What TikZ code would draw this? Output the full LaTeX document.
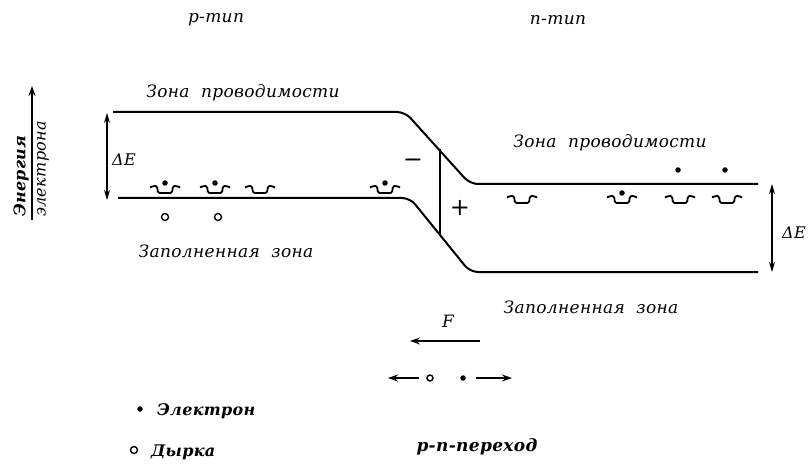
\documentclass[tikz,border=0pt]{standalone}
\usepackage{fontspec}
\setmainfont{DejaVu Serif}
\newfontfamily\lab[LetterSpace=2]{DejaVu Serif}
\usetikzlibrary{arrows.meta}
\begin{document}
\begin{tikzpicture}[x=1pt,y=-1pt,
  band/.style={line width=2pt, rounded corners=8pt},
  txt/.style={font=\lab\itshape\fontsize{17}{17}\selectfont, inner sep=0pt},
  arr/.style={line width=1.6pt, -{Stealth[length=10pt,width=7pt]}},
  darr/.style={line width=1.4pt, {Stealth[length=10pt,width=6pt]}-{Stealth[length=10pt,width=6pt]}},
  elec/.style={circle, fill, inner sep=0pt, minimum size=5.5pt},
  hole/.style={circle, draw, line width=1.4pt, inner sep=0pt, minimum size=7pt},
  trough/.pic={\draw[line width=1.8pt, rounded corners=1.5pt] (-15,1.5) -- (-12,0) -- (-8,0) -- (-7,7) -- (7,7) -- (8,0) -- (12,0) -- (15,1.5);}
]
\useasboundingbox (0,0) rectangle (811,465);

% titles
\node[txt] (ptype) at (216,20) {p-тип};
\node[txt] (ntype) at (558,20) {n-тип};

% bands
\coordinate (ul) at (113,112);
\coordinate (ur) at (758,184);
\coordinate (ll) at (118,198);
\coordinate (lr) at (758,272);
\draw[band] (ul) -- (405,112) -- (470,184) -- (ur);
\draw[band] (ll) -- (410,198) -- (470,272) -- (lr);

% junction line
\coordinate (jt) at (440,149);
\coordinate (jb) at (440,234);
\draw[line width=2pt] (jt) -- (jb);
\node[txt, font=\fontsize{24}{24}\selectfont] (minus) at (413,163) {−};
\node[txt, font=\fontsize{24}{24}\selectfont] (plus) at (460,208) {+};

% band labels
\node[txt] (cb1) at (243,93) {Зона\ \ проводимости};
\node[txt] (cb2) at (610,143) {Зона\ \ проводимости};
\node[txt] (vb1) at (226,251) {Заполненная\ \ зона};
\node[txt] (vb2) at (591,307) {Заполненная\ \ зона};

% Delta E arrows
\coordinate (d1t) at (107,113);
\coordinate (d1b) at (107,200);
\draw[darr] (d1t) -- (d1b);
\node[txt, font=\lab\itshape\fontsize{16}{16}\selectfont] (de1) at (124,160) {ΔE};
\coordinate (d2t) at (772,184);
\coordinate (d2b) at (772,272);
\draw[darr] (d2t) -- (d2b);
\node[txt, font=\lab\itshape\fontsize{16}{16}\selectfont] (de2) at (794,233) {ΔE};

% acceptor levels (p side)
\pic at (165,186) {trough};
\pic at (215,186) {trough};
\pic at (260,186) {trough};
\pic at (385,186) {trough};
\node[elec] (a1) at (165,183) {};
\node[elec] (a2) at (215,183) {};
\node[elec] (a4) at (385,183) {};
\node[hole] (h1) at (165,217) {};
\node[hole] (h2) at (218,217) {};

% donor levels (n side)
\pic at (522,196) {trough};
\pic at (622,196) {trough};
\pic at (680,196) {trough};
\pic at (727,196) {trough};
\node[elec] (n2) at (622,193) {};
\node[elec] (e1) at (678,170) {};
\node[elec] (e2) at (725,170) {};

% energy axis
\coordinate (axb) at (32,220);
\coordinate (axt) at (32,86);
\draw[arr, line width=1.3pt] (axb) -- (axt);
\node[txt, rotate=90, anchor=south west, font=\lab\itshape\bfseries\fontsize{16}{16}\selectfont] (en1) at (29,217) {Энергия};
\node[txt, rotate=90, anchor=north west, font=\lab\itshape\fontsize{16}{16}\selectfont] (en2) at (37,217) {электрона};

% force
\node[txt] (F) at (448,321) {F};
\coordinate (fs) at (480,341);
\coordinate (fe) at (410,341);
\draw[arr] (fs) -- (fe);

% motion
\node[hole, minimum size=6pt] (mh) at (430,378) {};
\node[elec] (me) at (463,378) {};
\coordinate (ml) at (388,378);
\coordinate (mr) at (512,378);
\draw[arr] (419,378) -- (ml);
\draw[arr] (476,378) -- (mr);

% legend
\node[elec] (le) at (140,409) {};
\node[txt, anchor=west, font=\lab\itshape\bfseries\fontsize{16}{16}\selectfont] (lt1) at (157,411) {Электрон};
\node[hole] (lh) at (134,450) {};
\node[txt, anchor=west, font=\lab\itshape\bfseries\fontsize{16}{16}\selectfont] (lt2) at (151,452) {Дырка};

\node[txt, font=\lab\itshape\bfseries\fontsize{17}{17}\selectfont] (pn) at (477,447) {p-n-переход};
\end{tikzpicture}
\end{document}
